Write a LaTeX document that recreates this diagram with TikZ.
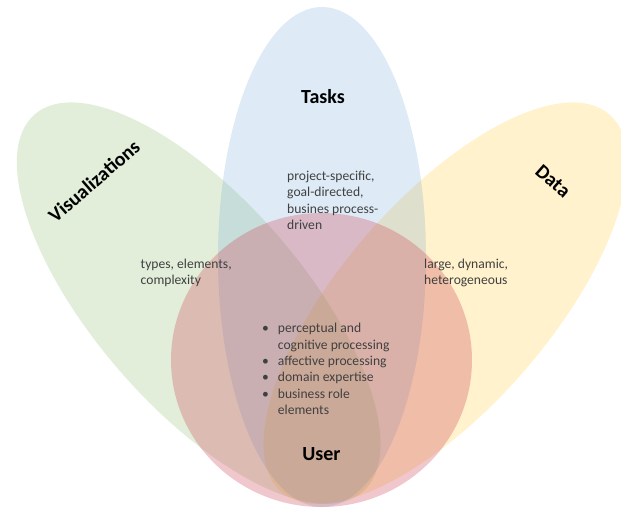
\documentclass[tikz,border=0pt]{standalone}
\usepackage{fontspec}
\setmainfont{Carlito}
\definecolor{vizgreen}{RGB}{112,173,71}
\definecolor{taskblue}{RGB}{91,155,213}
\definecolor{datayellow}{RGB}{255,192,0}
\definecolor{userred}{RGB}{206,70,88}
\definecolor{bodygray}{RGB}{64,64,64}
\begin{document}
\begin{tikzpicture}[x=1pt,y=-1pt,
  petal/.style={fill opacity=0.2},
  usershape/.style={fill=userred, fill opacity=0.3},
  title/.style={font=\fontsize{20}{24}\selectfont\bfseries, text=black, inner sep=0pt},
  body/.style={font=\fontsize{13.6}{16.3}\selectfont, text=bodygray, inner sep=0pt, align=left, anchor=base west}]
% canvas
\fill[white] (0,0) rectangle (621,508);
\useasboundingbox (0,0) rectangle (621,508);
\clip (0,0) rectangle (621,508);
\coordinate (pivot) at (322,445);
% three petals turned about a common point
\begin{scope}[shift={(pivot)}, rotate=41]
  \fill[vizgreen, petal] (0,-188) ellipse [x radius=104pt, y radius=250pt];
\end{scope}
\begin{scope}[shift={(pivot)}, rotate=-41]
  \fill[datayellow, petal] (0,-188) ellipse [x radius=104pt, y radius=250pt];
\end{scope}
\begin{scope}[shift={(pivot)}]
  \fill[taskblue, petal] (0,-188) ellipse [x radius=104pt, y radius=250pt];
\end{scope}
% user disc
\fill[usershape] (321.5,360) ellipse [x radius=150.5pt, y radius=147pt];
% titles
\node[title, rotate=41] (viz) at (94,181) {Visualizations};
\node[title] (tasks) at (323,97) {Tasks};
\node[title, rotate=-41] (data) at (553,181) {Data};
\node[title] (user) at (321.5,454.5) {User};
% descriptions (anchored on the baseline of their last line)
\node[body] (tasksdesc) at (287,229.4) {project-specific,\\goal-directed,\\busines process-\\driven};
\node[body] (vizdesc) at (140.5,284.8) {types, elements,\\complexity};
\node[body] (datadesc) at (424,284.8) {large, dynamic,\\heterogeneous};
\node[body] (userdesc) at (277.7,414.3) {%
  \llap{\textbullet\hspace{9pt}}perceptual and\\
  cognitive processing\\
  \llap{\textbullet\hspace{9pt}}affective processing\\
  \llap{\textbullet\hspace{9pt}}domain expertise\\
  \llap{\textbullet\hspace{9pt}}business role\\
  elements};
\end{tikzpicture}
\end{document}
